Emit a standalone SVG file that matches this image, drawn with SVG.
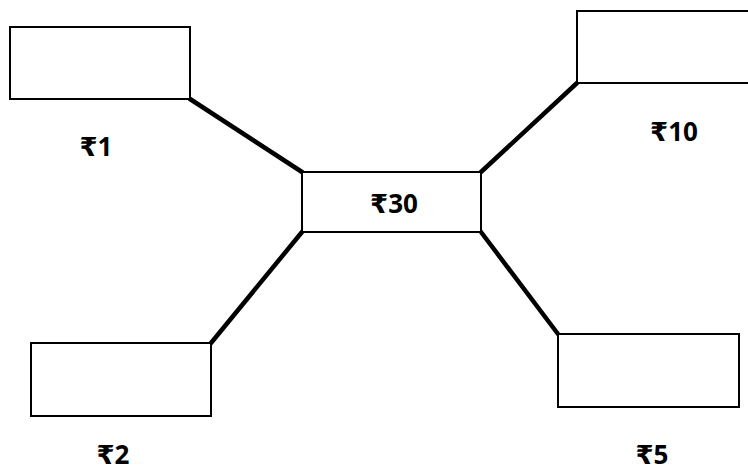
<svg xmlns="http://www.w3.org/2000/svg" width="748" height="473" viewBox="0 0 748 473">
<style>
.box{fill:#fff;stroke:#000;stroke-width:2}
.lbl{font-family:"Open Sans","Liberation Sans","DejaVu Sans",sans-serif;font-weight:bold;font-size:26px;fill:#000;text-anchor:middle}
.con{stroke:#000;stroke-width:4.5;stroke-linecap:round;fill:none}
</style>
<rect width="748" height="473" fill="#fff"/>
<g id="connectors">
<line class="con" x1="190" y1="99" x2="302" y2="172"/>
<line class="con" x1="481" y1="172" x2="577" y2="83"/>
<line class="con" x1="302" y1="232" x2="211" y2="343"/>
<line class="con" x1="481" y1="232" x2="558" y2="334"/>
</g>
<g id="center">
<rect class="box" x="302" y="172" width="179" height="60"/>
<text class="lbl" x="394" y="213">₹30</text>
</g>
<g id="n1">
<rect class="box" x="10" y="27" width="180" height="72"/>
<text class="lbl" x="96" y="156">₹1</text>
</g>
<g id="n10">
<rect class="box" x="577" y="11" width="175" height="72"/>
<text class="lbl" x="674" y="141">₹10</text>
</g>
<g id="n2">
<rect class="box" x="31" y="343" width="180" height="73"/>
<text class="lbl" x="113" y="464">₹2</text>
</g>
<g id="n5">
<rect class="box" x="558" y="334" width="181" height="73"/>
<text class="lbl" x="652" y="464">₹5</text>
</g>
</svg>
